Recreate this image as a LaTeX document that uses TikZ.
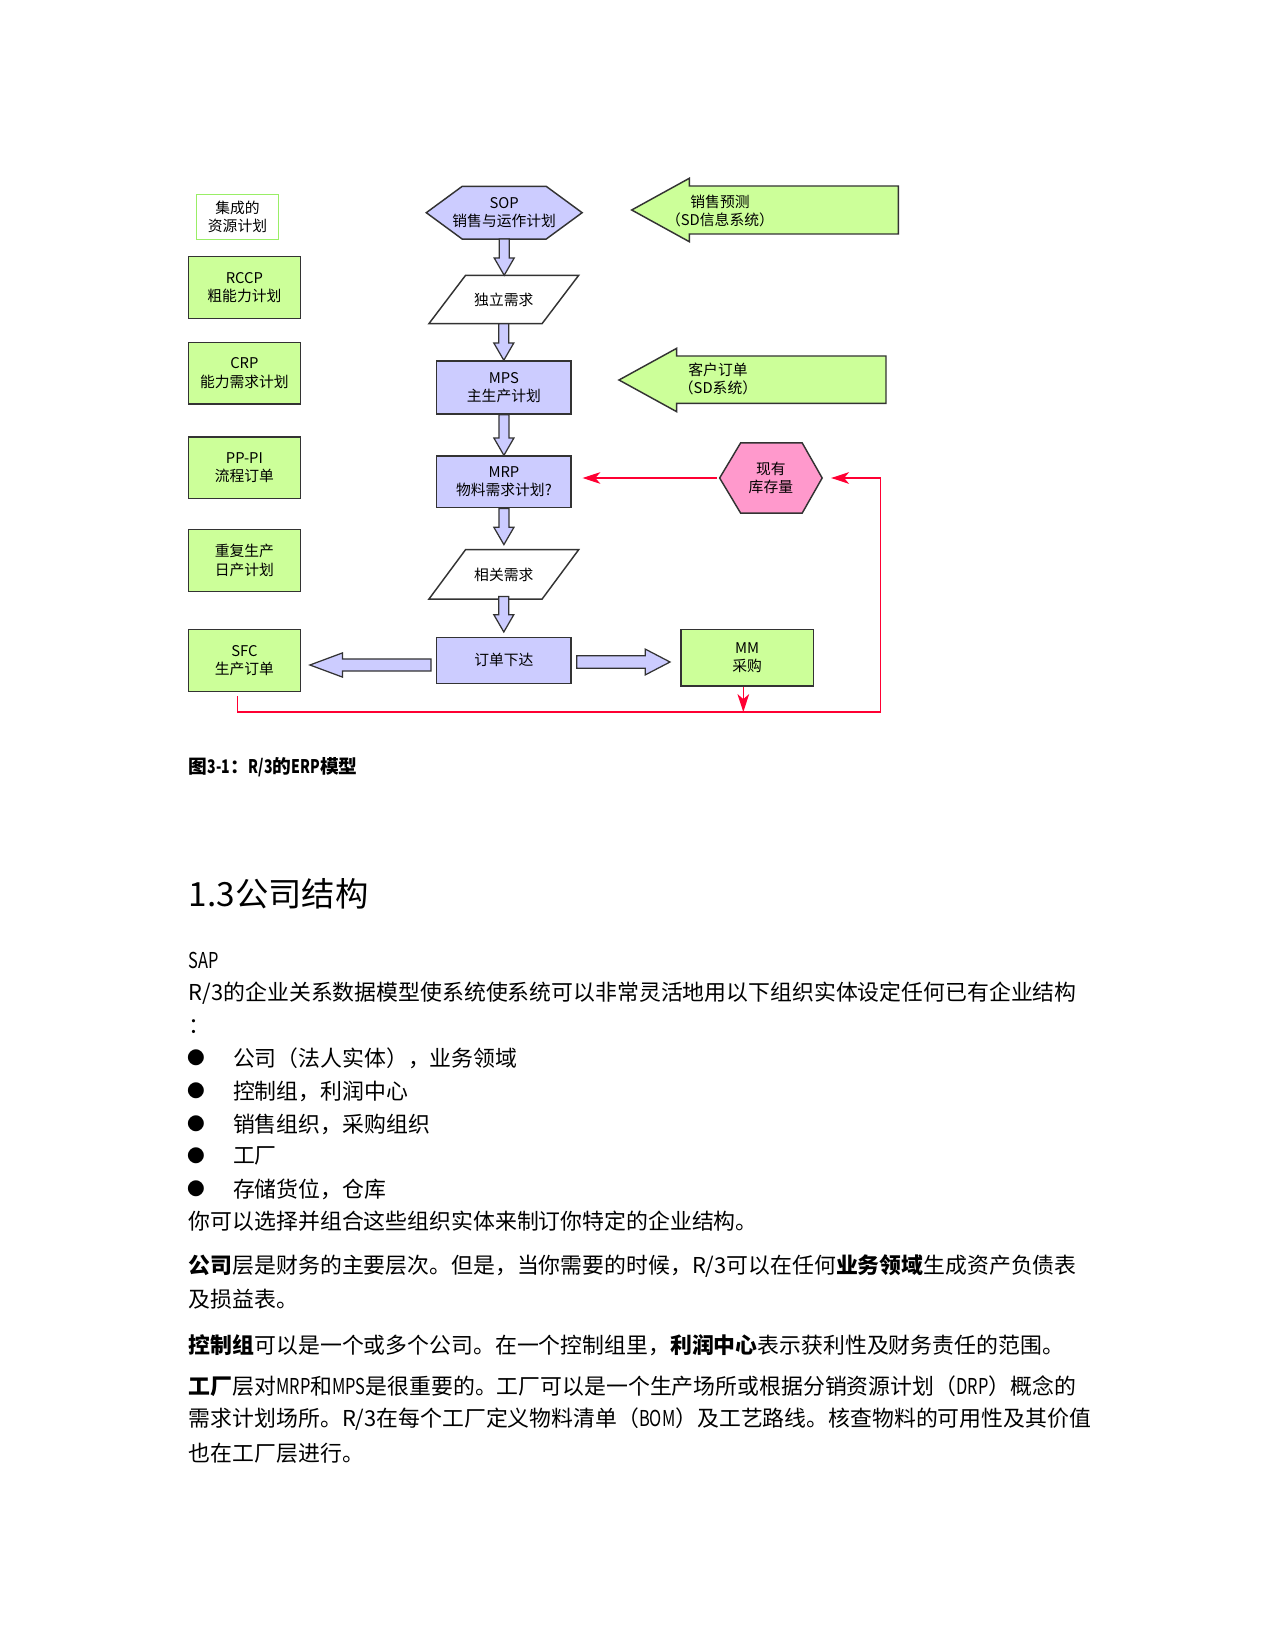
\documentclass[tikz,border=0pt]{standalone}
\usepackage{fontspec}
\setmainfont{Noto Sans CJK SC}
\usepackage{graphicx}
\usetikzlibrary{arrows.meta,backgrounds,calc}
\definecolor{blfill}{HTML}{CCCCFF}
\definecolor{grfill}{HTML}{CCFF99}
\definecolor{pkfill}{HTML}{FF99CC}
\definecolor{redln}{HTML}{FF0033}
\definecolor{edgec}{HTML}{333333}
\definecolor{lgedge}{HTML}{99EE66}
\newcommand\pxu{0.48pt}
\newcommand\nlat[1]{\scalebox{0.75}[1]{#1}}
\newcommand\vblk[2]{\draw[blockarrow] let \p1=#1, \p2=#2 in
  (\x1-2.4pt,\y1) -- (\x1+2.4pt,\y1) -- (\x1+2.4pt,\y2+8.3pt) -- (\x1+4.8pt,\y2+8.3pt)
  -- (\x1,\y2) -- (\x1-4.8pt,\y2+8.3pt) -- (\x1-2.4pt,\y2+8.3pt) -- cycle;}
\begin{document}
\begin{tikzpicture}[x=0.48pt,y=-0.48pt,
  dtext/.style={font=\fontsize{7.1}{8.8}\selectfont, align=center, text=black},
  gbox/.style={dtext, draw=edgec, fill=grfill, line width=0.7pt, minimum width=112*\pxu, minimum height=61.6*\pxu, inner sep=0pt},
  bbox/.style={dtext, draw=edgec, fill=blfill, line width=0.7pt, minimum width=134.3*\pxu, inner sep=0pt},
  frame/.style={dtext, inner sep=0pt},
  bshape/.style={draw=edgec, line width=0.7pt, line join=miter},
  blockarrow/.style={draw=edgec, fill=blfill, line width=0.6pt, line join=miter},
  greenarrow/.style={draw=edgec, fill=grfill, line width=0.7pt, line join=miter},
  redline/.style={draw=redln, line width=0.6pt},
  redarrow/.style={redline, -{Stealth[length=8.6pt,width=5.6pt,inset=2.4pt]}},
  body/.style={anchor=west, inner sep=0pt, font=\fontsize{10.5}{12}\selectfont},
  bul/.style={inner sep=0pt, font=\fontsize{8.5}{10}\selectfont}
]
\useasboundingbox (0,0) rectangle (1275,1650);

% ---- left column ----
\node[dtext, draw=lgedge, line width=0.7pt, fill=white, minimum width=81.6*\pxu, minimum height=45*\pxu, inner sep=0pt] (irp) at (237.5,216.8) {集成的\\资源计划};
\node[gbox] (rccp) at (244.4,287.5) {RCCP\\粗能力计划};
\node[gbox] (crp) at (244.4,373.2) {CRP\\能力需求计划};
\node[gbox] (ppi) at (244.4,467.9) {PP-PI\\流程订单};
\node[gbox] (rep) at (244.4,560.5) {重复生产\\日产计划};
\node[gbox] (sfc) at (244.4,660.5) {SFC\\生产订单};

% ---- centre column ----
\node[frame, minimum width=155*\pxu, minimum height=52*\pxu] (sop) at (504.2,212.7) {SOP\\销售与运作计划};
\node[frame, minimum width=149*\pxu, minimum height=47.6*\pxu] (indep) at (503.8,299.5) {独立需求};
\node[bbox, minimum height=53*\pxu] (mps) at (503.9,387.5) {MPS\\主生产计划};
\node[bbox, minimum height=51.7*\pxu] (mrp) at (503.9,481.9) {MRP\\物料需求计划?};
\node[frame, minimum width=149*\pxu, minimum height=48.7*\pxu] (dep) at (503.8,574.4) {相关需求};
\node[bbox, minimum height=46*\pxu] (order) at (503.9,660.3) {订单下达};
\node[gbox, minimum width=132.3*\pxu, minimum height=56.7*\pxu] (mm) at (747.2,657.7) {MM\\采购};
\node[frame, minimum width=101.7*\pxu, minimum height=69.4*\pxu] (stock) at (770.9,478) {现有\\库存量};

\begin{scope}[on background layer]
  \draw[bshape, fill=blfill] (sop.west) -- ([xshift=36*\pxu]sop.north west) -- ([xshift=-36*\pxu]sop.north east) -- (sop.east)
     -- ([xshift=-36*\pxu]sop.south east) -- ([xshift=36*\pxu]sop.south west) -- cycle;
  \draw[bshape, fill=white] ([xshift=36.7*\pxu]indep.north west) -- (indep.north east) -- ([xshift=-36.7*\pxu]indep.south east) -- (indep.south west) -- cycle;
  \draw[bshape, fill=white] ([xshift=36.7*\pxu]dep.north west) -- (dep.north east) -- ([xshift=-36.7*\pxu]dep.south east) -- (dep.south west) -- cycle;
  \draw[bshape, fill=pkfill] (stock.west) -- ([xshift=21*\pxu]stock.north west) -- ([xshift=-20*\pxu]stock.north east) -- (stock.east)
     -- ([xshift=-20*\pxu]stock.south east) -- ([xshift=21*\pxu]stock.south west) -- cycle;
\end{scope}

% ---- green input arrows ----
\draw[greenarrow] (631.7,210) -- (689.3,178.3) -- (689.3,186) -- (898.3,186) -- (898.3,234) -- (689.3,234) -- (689.3,241.7) -- cycle;
\node[dtext] (fcast) at (720,211) {销售预测\\（SD信息系统）};
\draw[greenarrow] (619,380) -- (676.7,348.3) -- (676.7,356) -- (886,356) -- (886,403.3) -- (676.7,403.3) -- (676.7,411.7) -- cycle;
\node[dtext] (cust) at (718,379) {客户订单\\（SD系统）};

% ---- vertical block arrows ----
\vblk{(sop.south)}{(indep.north)}
\vblk{(indep.south)}{(mps.north)}
\vblk{(mps.south)}{(mrp.north)}
\vblk{(mrp.south)}{([yshift=5*\pxu]dep.north)}
\vblk{([yshift=2.7*\pxu]dep.south)}{([yshift=4.6*\pxu]order.north)}

% ---- horizontal block arrows ----
\draw[blockarrow] let \p1=([xshift=-5*\pxu,yshift=-4.7*\pxu]order.west), \p2=([xshift=8.8*\pxu]sfc.east) in
  (\x1,\y1-2.9pt) -- (\x1,\y1+2.9pt) -- (\x2+15.6pt,\y1+2.9pt) -- (\x2+15.6pt,\y1+5.8pt) -- (\x2,\y1)
  -- (\x2+15.6pt,\y1-5.8pt) -- (\x2+15.6pt,\y1-2.9pt) -- cycle;
\draw[blockarrow] let \p1=([xshift=5*\pxu,yshift=-1.7*\pxu]order.east), \p2=([xshift=-10.3*\pxu]mm.west) in
  (\x1,\y1-3pt) -- (\x1,\y1+3pt) -- (\x2-11.9pt,\y1+3pt) -- (\x2-11.9pt,\y1+6.2pt) -- (\x2,\y1)
  -- (\x2-11.9pt,\y1-6.2pt) -- (\x2-11.9pt,\y1-3pt) -- cycle;

% ---- red feedback lines ----
\coordinate (cr) at (880.7,712);
\coordinate (mmb) at ($(mm.south)+(-3.9,0)$);
\draw[redarrow, shorten <=3*\pxu] (stock.west) -- ($(stock.west -| mrp.east)+(10.7,0)$);
\draw[redarrow, shorten >=9*\pxu, line join=miter] ($(sfc.south)+(-6.7,4.3)$) |- (cr) |- (stock.east);
\draw[redarrow] (mmb) -- (mmb |- cr);

% ---- caption and text ----
\node[anchor=west, inner sep=0pt, font=\fontsize{9}{11}\selectfont\bfseries] (cap) at (188.5,767.5) {图\nlat{3-1}：\nlat{R/3}的\nlat{ERP}模型};
\node[anchor=west, inner sep=0pt, font=\fontsize{16}{19}\selectfont] (head) at (188.5,894) {1.3公司结构};

\node[body] (l1) at (188.5,960) {\nlat{SAP}};
\node[body] (l2) at (188.5,993) {R/3的企业关系数据模型使系统使系统可以非常灵活地用以下组织实体设定任何已有企业结构};
\node[body] (l3) at (188.5,1027) {：};
\node[bul] (b1) at (196,1058) {●};
\node[body] (l4) at (232.7,1058) {公司（法人实体），业务领域};
\node[bul] (b2) at (196,1091) {●};
\node[body] (l5) at (232.7,1091) {控制组，利润中心};
\node[bul] (b3) at (196,1124) {●};
\node[body] (l6) at (232.7,1124) {销售组织，采购组织};
\node[bul] (b4) at (196,1156) {●};
\node[body] (l7) at (232.7,1156) {工厂};
\node[bul] (b5) at (196,1189) {●};
\node[body] (l8) at (232.7,1189) {存储货位，仓库};
\node[body] (l9) at (188.5,1221) {你可以选择并组合这些组织实体来制订你特定的企业结构。};
\node[body] (l10) at (188.5,1266) {\textbf{公司}层是财务的主要层次。但是，当你需要的时候，R/3可以在任何\textbf{业务领域}生成资产负债表};
\node[body] (l11) at (188.5,1299) {及损益表。};
\node[body] (l12) at (188.5,1345) {\textbf{控制组}可以是一个或多个公司。在一个控制组里，\textbf{利润中心}表示获利性及财务责任的范围。};
\node[body] (l13) at (188.5,1386) {\textbf{工厂}层对\nlat{MRP}和\nlat{MPS}是很重要的。工厂可以是一个生产场所或根据分销资源计划（\nlat{DRP}）概念的};
\node[body] (l14) at (188.5,1419) {需求计划场所。R/3在每个工厂定义物料清单（\nlat{BOM}）及工艺路线。核查物料的可用性及其价值};
\node[body] (l15) at (188.5,1453) {也在工厂层进行。};
\end{tikzpicture}
\end{document}
